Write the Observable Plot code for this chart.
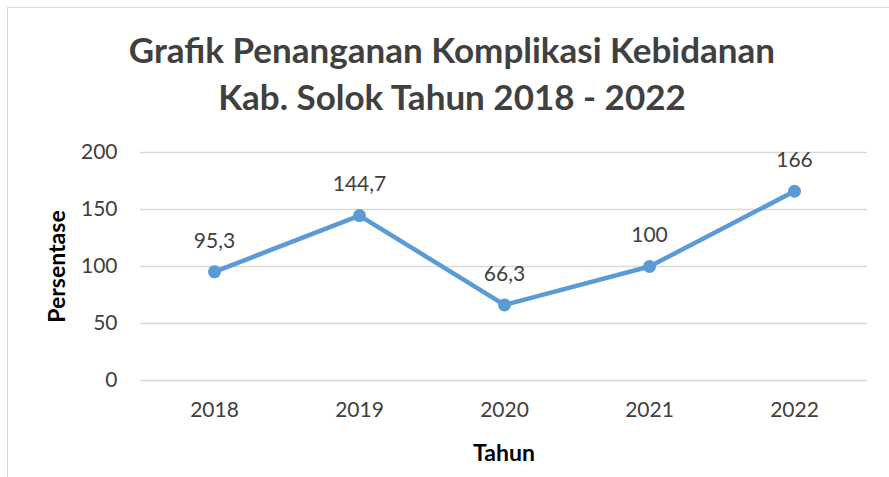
<!DOCTYPE html>
<html><head><meta charset="utf-8">
<script src="https://cdn.jsdelivr.net/npm/d3@7"></script>
<script src="https://cdn.jsdelivr.net/npm/@observablehq/plot@0.6"></script>
<style>
html,body{margin:0;padding:0;background:#fff;width:889px;height:477px;overflow:hidden;}
#frame{position:absolute;left:7px;top:7px;width:900px;height:500px;border:1px solid #d9d9d9;box-sizing:border-box;}
#title{position:absolute;left:7px;width:890px;top:26px;text-align:center;font-family:Lato,sans-serif;font-weight:bold;font-size:35px;line-height:47px;color:#404040;}
#chart{position:absolute;left:0;top:125px;}
</style></head><body>
<div id="frame"></div>
<div id="title">Grafik Penanganan Komplikasi Kebidanan<br>Kab. Solok Tahun 2018 - 2022</div>
<div id="chart"></div>
<script>
const years = ["2018","2019","2020","2021","2022"];
const values = [95.3, 144.7, 66.3, 100, 166];
const labels = ["95,3","144,7","66,3","100","166"];
const yTicks = [0,50,100,150,200];

const data = years.map((y,i)=>({year:y, value:values[i], label:labels[i]}));
const font = "Lato, sans-serif";
const chart = Plot.plot({
  width: 889, height: 352,
  marginLeft: 140, marginRight: 22, marginTop: 27, marginBottom: 97,
  style: {fontFamily: font, fontSize: "21px", color: "#404040", background: "transparent"},
  x: {type: "point", domain: years, padding: 0.5},
  y: {domain: [0,200]},
  marks: [
    Plot.ruleY(yTicks, {stroke: "#d9d9d9", strokeWidth: 1.5}),
    Plot.axisY(yTicks, {tickSize: 0, tickPadding: 23, fontSize: 21, fill: "#404040", label: "Persentase", labelArrow: "none", labelAnchor: "center", labelOffset: 92}),
    Plot.axisX(years, {tickSize: 0, tickPadding: 22, fontSize: 21, fill: "#404040", label: "Tahun", labelArrow: "none", labelAnchor: "center", labelOffset: 80}),
    Plot.line(data, {x: "year", y: "value", stroke: "#5b9bd5", strokeWidth: 4.5}),
    Plot.dot(data, {x: "year", y: "value", r: 6.5, fill: "#5b9bd5"}),
    Plot.text(data, {x: "year", y: "value", text: "label", dy: -31, fontSize: 21, fill: "#404040"})
  ]
});
d3.select(chart).selectAll("[aria-label='x-axis label'] text, [aria-label='y-axis label'] text")
  .style("font-weight","bold").style("font-size","23px").style("fill","#000");
document.getElementById("chart").appendChild(chart);
</script>
</body></html>
